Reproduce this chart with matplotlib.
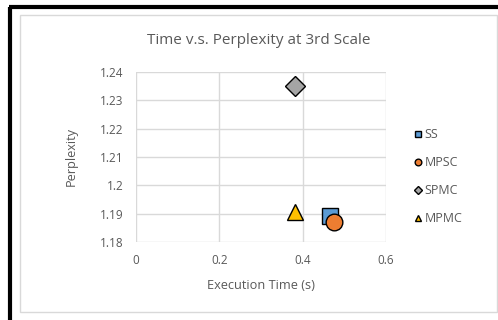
import matplotlib
matplotlib.use("Agg")
import matplotlib.pyplot as plt
from matplotlib.lines import Line2D
from matplotlib.patches import Rectangle

plt.rcParams['font.family'] = ['Open Sans', 'DejaVu Sans']

series = ["SS", "MPSC", "SPMC", "MPMC"]
exec_time = [0.466, 0.476, 0.382, 0.382]
perplexity = [1.189, 1.187, 1.2352, 1.1905]
colors = ["#5B9BD5", "#ED7D31", "#A5A5A5", "#FFC000"]
markers = ["s", "o", "D", "^"]
xticks = [0, 0.2, 0.4, 0.6]
yticks = [1.18, 1.19, 1.20, 1.21, 1.22, 1.23, 1.24]
ytick_labels = ["1.18", "1.19", "1.2", "1.21", "1.22", "1.23", "1.24"]

W, H = 498, 320
fig = plt.figure(figsize=(W / 100, H / 100), dpi=100)

def fx(px):
    return px / W

def fy(py):
    return 1 - py / H

# outer frame decorations
fig.add_artist(Rectangle((fx(19.5), fy(312)), fx(497) - fx(19.5), fy(15) - fy(312),
                         transform=fig.transFigure, fill=False, edgecolor="#D9D9D9", lw=1.0))
fig.add_artist(Line2D([fx(10), fx(10)], [fy(320), fy(6.5)], transform=fig.transFigure,
                      color="black", lw=3.0, solid_capstyle="butt"))
fig.add_artist(Line2D([fx(8.5), fx(498)], [fy(6.5), fy(6.5)], transform=fig.transFigure,
                      color="black", lw=3.0, solid_capstyle="butt"))

ax = fig.add_axes([fx(136), fy(242), fx(386) - fx(136), fy(72) - fy(242)])

sizes = [11, 12, 10, 12]
for name, x, y, c, m, s in zip(series, exec_time, perplexity, colors, markers, sizes):
    ax.plot([x], [y], linestyle="none", marker=m, markersize=s, markerfacecolor=c,
            markeredgecolor="black", markeredgewidth=1.0, label=name, zorder=3)

ax.set_xlim(0, 0.6)
ax.set_ylim(1.18, 1.24)
ax.set_xticks(xticks)
ax.set_xticklabels([f"{t:g}" for t in xticks])
ax.set_yticks(yticks)
ax.set_yticklabels(ytick_labels)
ax.grid(True, color="#D9D9D9", lw=1.0)
ax.set_axisbelow(True)
for sp in ax.spines.values():
    sp.set_visible(False)
ax.tick_params(length=0, labelsize=8.5, labelcolor="#595959", pad=9)

ax.set_xlabel("Execution Time (s)", fontsize=9.2, color="#595959", labelpad=8)
ax.set_ylabel("Perplexity", fontsize=9.2, color="#595959", labelpad=16)
fig.text(fx(259), fy(40), "Time v.s. Perplexity at 3rd Scale", ha="center", va="center",
         fontsize=11, color="#595959")

leg = ax.legend(loc="upper left", bbox_to_anchor=(fx(408), fy(122)), bbox_transform=fig.transFigure,
                frameon=False, fontsize=9, markerscale=0.4, handlelength=0.55,
                handletextpad=0.25, labelspacing=1.2, borderpad=0)
for t in leg.get_texts():
    t.set_color("#595959")

fig.savefig("out.png", dpi=100)
